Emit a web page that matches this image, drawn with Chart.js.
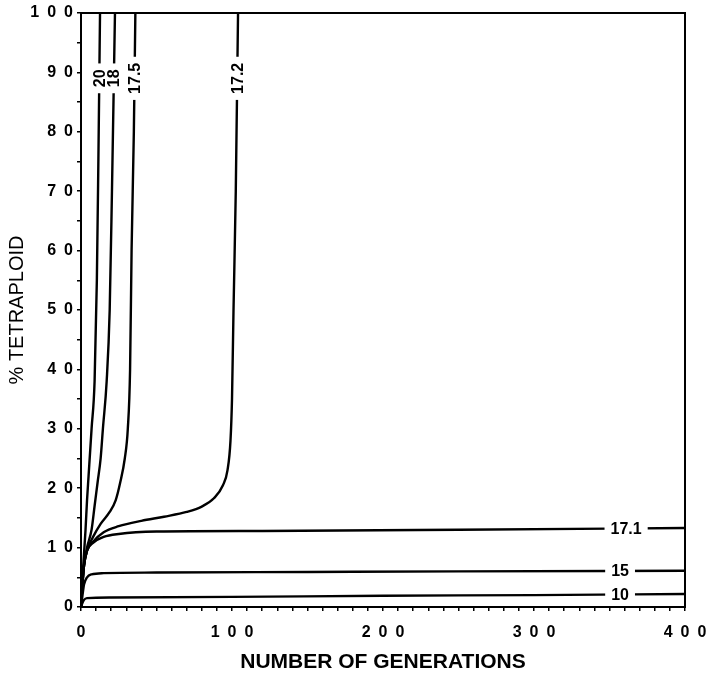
<!DOCTYPE html>
<html>
<head>
<meta charset="utf-8">
<script src="https://cdn.jsdelivr.net/npm/chart.js@4.4.1/dist/chart.umd.min.js"></script>
<style>
  html, body { margin: 0; padding: 0; background: #fff; }
  #wrap { position: relative; width: 707px; height: 676px; }
</style>
</head>
<body>
<div id="wrap"><canvas id="chart"></canvas></div>
<script>
// generations (x) and % tetraploid (y) for each curve
const gen10 = [0, 1, 2, 4, 20, 100, 200, 300, 400];
const pct10 = [0, 0.7, 1.2, 1.5, 1.6, 1.7, 1.9, 2.0, 2.2];

const gen15 = [0, 1, 2, 4, 7, 15, 50, 150, 250, 400];
const pct15 = [0, 2, 3.8, 5, 5.5, 5.7, 5.8, 5.9, 6.0, 6.1];

const gen171 = [0, 1, 2, 4, 8, 15, 25, 50, 120, 250, 400];
const pct171 = [0, 4, 7, 9.5, 10.8, 11.8, 12.3, 12.7, 12.8, 13.0, 13.3];

const gen172 = [0, 1, 2, 4, 8, 15, 25, 40, 55, 70, 80, 88, 94, 97, 99, 100, 101, 102.5, 104];
const pct172 = [0, 4, 7, 9.5, 11, 12.6, 13.6, 14.5, 15.2, 16, 16.9, 18.3, 20.5, 23, 28, 35, 50, 70, 100];

const gen175 = [0, 1, 2, 4, 8, 13, 19, 23, 26, 29, 31, 32.5, 33.5, 35, 36];
const pct175 = [0, 4, 7, 9.5, 11.8, 14, 16, 18, 21, 25, 30, 40, 60, 80, 100];

const gen18 = [0, 1, 2, 4, 7, 9, 11, 13, 14.5, 17, 19, 20.5, 22.5];
const pct18 = [0, 4, 7, 10, 13, 17, 21, 25, 30, 38, 50, 70, 100];

const gen20 = [0, 1, 2, 3, 4, 5, 6, 7, 9, 10.5, 11.5, 12.6];
const pct20 = [0, 5, 9, 13, 18, 22, 26, 30, 38, 55, 75, 100];

const curveNames = ['10', '15', '17.1', '17.2', '17.5', '18', '20'];
const curveGens = [gen10, gen15, gen171, gen172, gen175, gen18, gen20];
const curvePcts = [pct10, pct15, pct171, pct172, pct175, pct18, pct20];

const xTicks = [0, 100, 200, 300, 400];
const yTicks = [0, 10, 20, 30, 40, 50, 60, 70, 80, 90, 100];

// where each curve label sits: horizontal ones at a generation, vertical ones at a %
const labelSpots = {
  '10':   { along: 'x', at: 357 },
  '15':   { along: 'x', at: 357 },
  '17.1': { along: 'x', at: 361 },
  '17.2': { along: 'y', at: 89 },
  '17.5': { along: 'y', at: 89 },
  '18':   { along: 'y', at: 89 },
  '20':   { along: 'y', at: 89 },
};

const spaced = v => String(v).split('').join('\u2002');

Chart.defaults.font.family = '"Liberation Sans", Arial, sans-serif';
Chart.defaults.color = '#000';

const datasets = curveNames.map((name, i) => ({
  label: name,
  data: curveGens[i].map((g, j) => ({ x: g, y: curvePcts[i][j] })),
  borderColor: '#000',
  borderWidth: 2.4,
  pointRadius: 0,
  cubicInterpolationMode: 'monotone',
  fill: false,
}));

// box around the plot area
const frame = {
  id: 'frame',
  afterDraw(chart) {
    const { ctx, chartArea: a } = chart;
    ctx.save();
    ctx.strokeStyle = '#000';
    ctx.lineWidth = 2;
    ctx.strokeRect(a.left, a.top, a.right - a.left, a.bottom - a.top);
    ctx.restore();
  }
};

// inline labels that break the curve
const curveLabels = {
  id: 'curveLabels',
  afterDatasetsDraw(chart) {
    const { ctx, scales: { x, y } } = chart;
    ctx.save();
    chart.data.datasets.forEach(ds => {
      const spot = labelSpots[ds.label];
      if (!spot) return;
      const pts = ds.data.map(p => ({ px: x.getPixelForValue(p.x), py: y.getPixelForValue(p.y), x: p.x, y: p.y }));
      let px, py;
      for (let k = 1; k < pts.length; k++) {
        const a = pts[k - 1], b = pts[k];
        const va = spot.along === 'x' ? a.x : a.y;
        const vb = spot.along === 'x' ? b.x : b.y;
        if (spot.at >= va && spot.at <= vb) {
          const t = (spot.at - va) / (vb - va || 1);
          px = a.px + (b.px - a.px) * t;
          py = a.py + (b.py - a.py) * t;
          break;
        }
      }
      if (px === undefined) return;
      ctx.font = 'bold 16px "Liberation Sans", Arial, sans-serif';
      const w = ctx.measureText(ds.label).width;
      ctx.fillStyle = '#fff';
      ctx.textAlign = 'center';
      ctx.textBaseline = 'middle';
      if (spot.along === 'x') {
        ctx.fillRect(px - w / 2 - 6, py - 4, w + 12, 8);
        ctx.fillStyle = '#000';
        ctx.fillText(ds.label, px, py + 1);
      } else {
        ctx.fillRect(px - 4, py - w / 2 - 6, 8, w + 12);
        ctx.translate(px, py);
        ctx.rotate(-Math.PI / 2);
        ctx.fillStyle = '#000';
        ctx.fillText(ds.label, 0, 1);
        ctx.setTransform(1, 0, 0, 1, 0, 0);
      }
    });
    ctx.restore();
  }
};

new Chart(document.getElementById('chart'), {
  type: 'line',
  data: { datasets },
  options: {
    responsive: true,
    maintainAspectRatio: false,
    animation: false,
    layout: { padding: { top: 13, right: 22, left: 0, bottom: 0 } },
    plugins: { legend: { display: false }, tooltip: { enabled: false } },
    scales: {
      x: {
        type: 'linear',
        min: 0,
        max: 400,
        afterFit(scale) {
          scale.height = 69;
          scale.paddingLeft = 0;
          scale.paddingRight = 0;
        },
        ticks: {
          stepSize: 10,
          autoSkip: false,
          maxRotation: 0,
          padding: 12,
          font: { size: 16, weight: 'bold' },
          callback: v => xTicks.includes(v) ? spaced(v) : '',
        },
        grid: { drawOnChartArea: false, tickLength: 4, color: '#000', lineWidth: 1.5 },
        border: { color: '#000', width: 2 },
        title: {
          display: true,
          text: 'NUMBER OF GENERATIONS',
          font: { size: 21, weight: 'bold' },
          padding: { top: 0, bottom: 1 },
        },
      },
      y: {
        min: 0,
        max: 100,
        afterFit(scale) {
          scale.width = 81;
          scale.paddingTop = 0;
          scale.paddingBottom = 0;
        },
        ticks: {
          stepSize: 5,
          autoSkip: false,
          padding: 4,
          font: { size: 16, weight: 'bold' },
          callback: v => yTicks.includes(v) ? spaced(v) : '',
        },
        grid: { drawOnChartArea: false, tickLength: 4, color: '#000', lineWidth: 1.5 },
        border: { color: '#000', width: 2 },
        title: {
          display: true,
          text: '% TETRAPLOID',
          font: { size: 20 },
          padding: { top: 5, bottom: 0 },
        },
      },
    },
  },
  plugins: [frame, curveLabels],
});
</script>
</body>
</html>
